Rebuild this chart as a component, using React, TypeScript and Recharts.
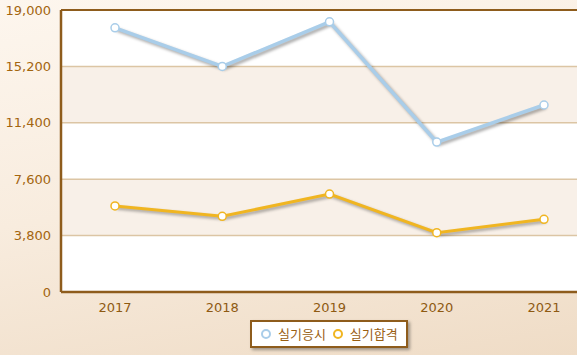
import {
  CartesianGrid,
  Legend,
  Line,
  LineChart,
  ReferenceLine,
  XAxis,
  YAxis,
} from "recharts";

const years = ["2017", "2018", "2019", "2020", "2021"];
const applicants = [17800, 15200, 18200, 10100, 12600];
const passed = [5800, 5100, 6600, 4000, 4900];
const yTicks = [0, 3800, 7600, 11400, 15200, 19000];

const data = years.map((y, i) => ({
  year: y,
  실기응시: applicants[i],
  실기합격: passed[i],
}));

const brown = "#8e5c1c";
const tickColor = "#a3650f";
const BLUE = "#a9cde9";
const GOLD = "#f0b521";

const LegendBox = () => (
  <div
    style={{
      display: "inline-flex",
      alignItems: "center",
      gap: 6,
      background: "#fff",
      border: `2px solid ${brown}`,
      boxShadow: "2px 2px 3px rgba(0,0,0,0.35)",
      padding: "3px 8px",
      fontFamily: "'Noto Sans CJK KR', 'DejaVu Sans', sans-serif",
      fontSize: 13,
      color: "#9a6012",
      lineHeight: "18px",
    }}
  >
    {[
      { name: "실기응시", c: BLUE },
      { name: "실기합격", c: GOLD },
    ].map((it) => (
      <span key={it.name} style={{ display: "inline-flex", alignItems: "center", gap: 6 }}>
        <svg width={12} height={12}>
          <circle cx={6} cy={6} r={4} fill="#fff" stroke={it.c} strokeWidth={2} />
        </svg>
        {it.name}
      </span>
    ))}
  </div>
);

export default function App() {
  return (
    <div
      style={{
        position: "fixed",
        left: 0,
        top: 0,
        width: 577,
        height: 355,
        overflow: "hidden",
        background: "linear-gradient(170deg, #fdf6ee 0%, #f8ecde 50%, #efdcc6 100%)",
      }}
    >
      <style>{`.recharts-line-curve{filter:drop-shadow(2px 2px 1.5px rgba(0,0,0,0.35));}`}</style>
      <LineChart
        width={600}
        height={355}
        data={data}
        margin={{ top: 10, right: 2, bottom: 0, left: 0 }}
      >
        <CartesianGrid
          vertical={false}
          horizontalFill={["#ffffff", "#f8f0e8"]}
          fillOpacity={1}
          stroke="#dcc5a4"
          strokeWidth={1.5}
        />
        <ReferenceLine y={19000} stroke={brown} strokeWidth={2} />
        <XAxis
          dataKey="year"
          padding={{ left: 54, right: 54 }}
          axisLine={{ stroke: brown, strokeWidth: 2.5 }}
          tickLine={false}
          tick={{ fill: "#8e5a12", fontSize: 13, fontFamily: "'DejaVu Sans', sans-serif" }}
          tickMargin={5}
          height={35}
        />
        <YAxis
          width={61}
          domain={[0, 19000]}
          ticks={yTicks}
          interval={0}
          axisLine={{ stroke: brown, strokeWidth: 2.5 }}
          tickLine={false}
          tickMargin={4}
          tickFormatter={(v: number) => v.toLocaleString("en-US")}
          tick={{ fill: tickColor, fontSize: 13, fontFamily: "'DejaVu Sans', sans-serif" }}
        />
        <Legend
          content={() => <LegendBox />}
          wrapperStyle={{ left: 250, top: 320, width: "auto" }}
        />
        <Line
          type="linear"
          dataKey="실기응시"
          stroke={BLUE}
          strokeWidth={3.5}
          dot={{ r: 4, fill: "#fff", stroke: BLUE, strokeWidth: 1.5 }}
          isAnimationActive={false}
        />
        <Line
          type="linear"
          dataKey="실기합격"
          stroke={GOLD}
          strokeWidth={3}
          dot={{ r: 4, fill: "#fff", stroke: GOLD, strokeWidth: 1.5 }}
          isAnimationActive={false}
        />
      </LineChart>
    </div>
  );
}
